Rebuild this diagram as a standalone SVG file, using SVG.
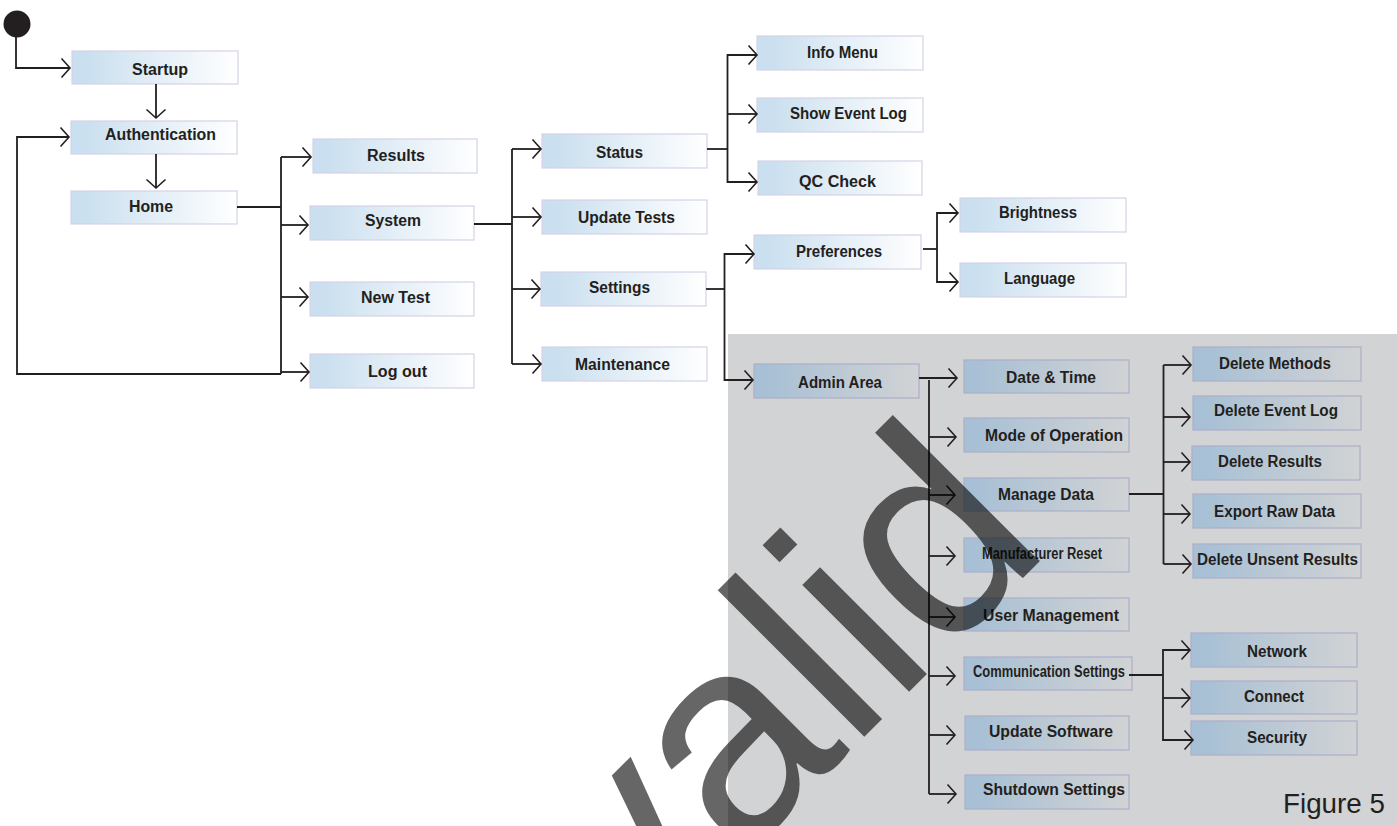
<svg xmlns="http://www.w3.org/2000/svg" width="1397" height="826" viewBox="0 0 1397 826">
<style>
text{font-family:"Liberation Sans",Arial,sans-serif;fill:#231f20}
.n rect{fill:url(#lt);stroke:#d4d2e6;stroke-width:1.2}
.d rect{fill:url(#dk);stroke:#acafca;stroke-width:1.2}
.n text,.d text{font-size:16px;font-weight:700}
#conn path{fill:none;stroke:#231f20;stroke-width:1.8}
.a{marker-end:url(#ah)}
</style>
<defs>
<linearGradient id="lt" x1="0" y1="0" x2="1" y2="0"><stop offset="0.08" stop-color="#cadfef"/><stop offset="1" stop-color="#ffffff"/></linearGradient>
<linearGradient id="dk" x1="0" y1="0" x2="1" y2="0"><stop offset="0.08" stop-color="#a8c0d5"/><stop offset="1" stop-color="#d1d3d4"/></linearGradient>
<marker id="ah" markerUnits="userSpaceOnUse" markerWidth="14" markerHeight="24" refX="11" refY="11" orient="auto" overflow="visible"><path d="M2.500,1.500L11,11L2.500,20.500" fill="none" stroke="#231f20" stroke-width="1.6"/></marker>
</defs>
<rect id="admin-panel" x="728" y="334" width="669" height="492" fill="#d1d3d4"/>
<g id="start"><circle cx="17" cy="24" r="13.500" fill="#231f20"/></g>
<g id="nodes">
<g id="startup" class="n"><rect x="72" y="51" width="166" height="33"/><text x="132" y="75" textLength="56" lengthAdjust="spacingAndGlyphs">Startup</text></g>
<g id="authentication" class="n"><rect x="71" y="121" width="166" height="33"/><text x="105" y="140" textLength="111" lengthAdjust="spacingAndGlyphs">Authentication</text></g>
<g id="home" class="n"><rect x="71" y="191" width="166" height="33"/><text x="129" y="212" textLength="44" lengthAdjust="spacingAndGlyphs">Home</text></g>
<g id="results" class="n"><rect x="313" y="139" width="164" height="34"/><text x="367" y="161" textLength="58" lengthAdjust="spacingAndGlyphs">Results</text></g>
<g id="system" class="n"><rect x="310" y="206" width="164" height="34"/><text x="365" y="226" textLength="56" lengthAdjust="spacingAndGlyphs">System</text></g>
<g id="new-test" class="n"><rect x="310" y="282" width="164" height="34"/><text x="361" y="303" textLength="69" lengthAdjust="spacingAndGlyphs">New Test</text></g>
<g id="log-out" class="n"><rect x="310" y="354" width="164" height="34"/><text x="368" y="377" textLength="59" lengthAdjust="spacingAndGlyphs">Log out</text></g>
<g id="status" class="n"><rect x="542" y="134" width="165" height="34"/><text x="596" y="158" textLength="47" lengthAdjust="spacingAndGlyphs">Status</text></g>
<g id="update-tests" class="n"><rect x="542" y="200" width="165" height="34"/><text x="578" y="223" textLength="97" lengthAdjust="spacingAndGlyphs">Update Tests</text></g>
<g id="settings" class="n"><rect x="541" y="272" width="165" height="34"/><text x="589" y="293" textLength="61" lengthAdjust="spacingAndGlyphs">Settings</text></g>
<g id="maintenance" class="n"><rect x="542" y="347" width="165" height="34"/><text x="575" y="370" textLength="95" lengthAdjust="spacingAndGlyphs">Maintenance</text></g>
<g id="info-menu" class="n"><rect x="757" y="36" width="166" height="34"/><text x="807" y="58" textLength="71" lengthAdjust="spacingAndGlyphs">Info Menu</text></g>
<g id="show-event-log" class="n"><rect x="757" y="98" width="166" height="34"/><text x="790" y="119" textLength="117" lengthAdjust="spacingAndGlyphs">Show Event Log</text></g>
<g id="qc-check" class="n"><rect x="758" y="161" width="164" height="34"/><text x="799" y="187" textLength="77" lengthAdjust="spacingAndGlyphs">QC Check</text></g>
<g id="preferences" class="n"><rect x="754" y="235" width="167" height="34"/><text x="796" y="257" textLength="86" lengthAdjust="spacingAndGlyphs">Preferences</text></g>
<g id="brightness" class="n"><rect x="960" y="198" width="166" height="34"/><text x="999" y="218" textLength="78" lengthAdjust="spacingAndGlyphs">Brightness</text></g>
<g id="language" class="n"><rect x="960" y="263" width="166" height="34"/><text x="1004" y="284" textLength="71" lengthAdjust="spacingAndGlyphs">Language</text></g>
<g id="admin-area" class="d"><rect x="754" y="364" width="165" height="34"/><text x="798" y="388" textLength="84" lengthAdjust="spacingAndGlyphs">Admin Area</text></g>
<g id="date-time" class="d"><rect x="964" y="360" width="165" height="33"/><text x="1006" y="383" textLength="90" lengthAdjust="spacingAndGlyphs">Date &amp; Time</text></g>
<g id="mode-of-operation" class="d"><rect x="964" y="418" width="165" height="34"/><text x="985" y="441" textLength="138" lengthAdjust="spacingAndGlyphs">Mode of Operation</text></g>
<g id="manage-data" class="d"><rect x="964" y="478" width="165" height="33"/><text x="998" y="500" textLength="96" lengthAdjust="spacingAndGlyphs">Manage Data</text></g>
<g id="manufacturer-reset" class="d"><rect x="964" y="538" width="165" height="34"/><text x="982" y="559" textLength="120" lengthAdjust="spacingAndGlyphs">Manufacturer Reset</text></g>
<g id="user-management" class="d"><rect x="964" y="598" width="165" height="33"/><text x="983" y="621" textLength="136" lengthAdjust="spacingAndGlyphs">User Management</text></g>
<g id="communication-settings" class="d"><rect x="964" y="657" width="168" height="33"/><text x="973" y="677" textLength="152" lengthAdjust="spacingAndGlyphs">Communication Settings</text></g>
<g id="update-software" class="d"><rect x="965" y="716" width="164" height="34"/><text x="989" y="737" textLength="124" lengthAdjust="spacingAndGlyphs">Update Software</text></g>
<g id="shutdown-settings" class="d"><rect x="965" y="775" width="164" height="34"/><text x="983" y="795" textLength="142" lengthAdjust="spacingAndGlyphs">Shutdown Settings</text></g>
<g id="delete-methods" class="d"><rect x="1193" y="347" width="168" height="34"/><text x="1219" y="369" textLength="112" lengthAdjust="spacingAndGlyphs">Delete Methods</text></g>
<g id="delete-event-log" class="d"><rect x="1193" y="396" width="168" height="34"/><text x="1214" y="416" textLength="124" lengthAdjust="spacingAndGlyphs">Delete Event Log</text></g>
<g id="delete-results" class="d"><rect x="1192" y="446" width="168" height="34"/><text x="1218" y="467" textLength="104" lengthAdjust="spacingAndGlyphs">Delete Results</text></g>
<g id="export-raw-data" class="d"><rect x="1193" y="494" width="168" height="34"/><text x="1214" y="517" textLength="121" lengthAdjust="spacingAndGlyphs">Export Raw Data</text></g>
<g id="delete-unsent-results" class="d"><rect x="1193" y="544" width="168" height="34"/><text x="1197" y="565" textLength="161" lengthAdjust="spacingAndGlyphs">Delete Unsent Results</text></g>
<g id="network" class="d"><rect x="1191" y="633" width="166" height="34"/><text x="1247" y="657" textLength="60" lengthAdjust="spacingAndGlyphs">Network</text></g>
<g id="connect" class="d"><rect x="1191" y="681" width="166" height="33"/><text x="1244" y="702" textLength="60" lengthAdjust="spacingAndGlyphs">Connect</text></g>
<g id="security" class="d"><rect x="1191" y="721" width="166" height="34"/><text x="1247" y="743" textLength="60" lengthAdjust="spacingAndGlyphs">Security</text></g>
</g>
<g id="conn">
<path class="a" d="M16,36V68H70"/>
<path class="a" d="M156,84V118"/>
<path class="a" d="M156,154V188"/>
<path d="M237,207H281M281,157V374"/>
<path class="a" d="M281,157H311"/>
<path class="a" d="M281,225H308"/>
<path class="a" d="M281,297H308"/>
<path class="a" d="M281,372H309"/>
<path class="a" d="M281,374H17V137H69"/>
<path d="M474,224H512M512,149V364"/>
<path class="a" d="M512,149H541"/>
<path class="a" d="M512,217H541"/>
<path class="a" d="M512,289H540"/>
<path class="a" d="M512,364H541"/>
<path d="M707,149H728"/>
<path class="a" d="M727.500,114H757"/>
<path class="a" d="M727.500,149V55H757"/>
<path class="a" d="M727.500,149V182H757"/>
<path d="M706,289H725"/>
<path class="a" d="M724.500,289V254H754"/>
<path class="a" d="M724.500,289V380H753"/>
<path d="M923,249H937"/>
<path class="a" d="M937,249V213H958"/>
<path class="a" d="M937,249V282H958"/>
<path class="a" d="M919,378H957"/>
<path d="M929,380V794"/>
<path class="a" d="M929,437H956"/>
<path class="a" d="M929,495H955"/>
<path class="a" d="M929,556H955"/>
<path class="a" d="M929,617H955"/>
<path class="a" d="M929,676H955"/>
<path class="a" d="M929,735H955"/>
<path class="a" d="M929,794H956"/>
<path d="M1129,494H1164M1163.500,365V564"/>
<path class="a" d="M1163.500,365H1191"/>
<path class="a" d="M1163.500,417H1190"/>
<path class="a" d="M1163.500,462H1190"/>
<path class="a" d="M1163.500,514H1190"/>
<path class="a" d="M1163.500,564H1191"/>
<path d="M1129,675H1163"/>
<path class="a" d="M1163,675V650H1190"/>
<path class="a" d="M1163,698H1190"/>
<path class="a" d="M1163,675V740H1193"/>
</g>
<text id="figure-label" x="1283" y="813" font-size="27" textLength="102" lengthAdjust="spacingAndGlyphs">Figure 5</text>
<text id="watermark" transform="translate(1053,548) rotate(-45)" text-anchor="end" font-size="286" style="fill:#000;fill-opacity:.6">Invalid</text>
</svg>
